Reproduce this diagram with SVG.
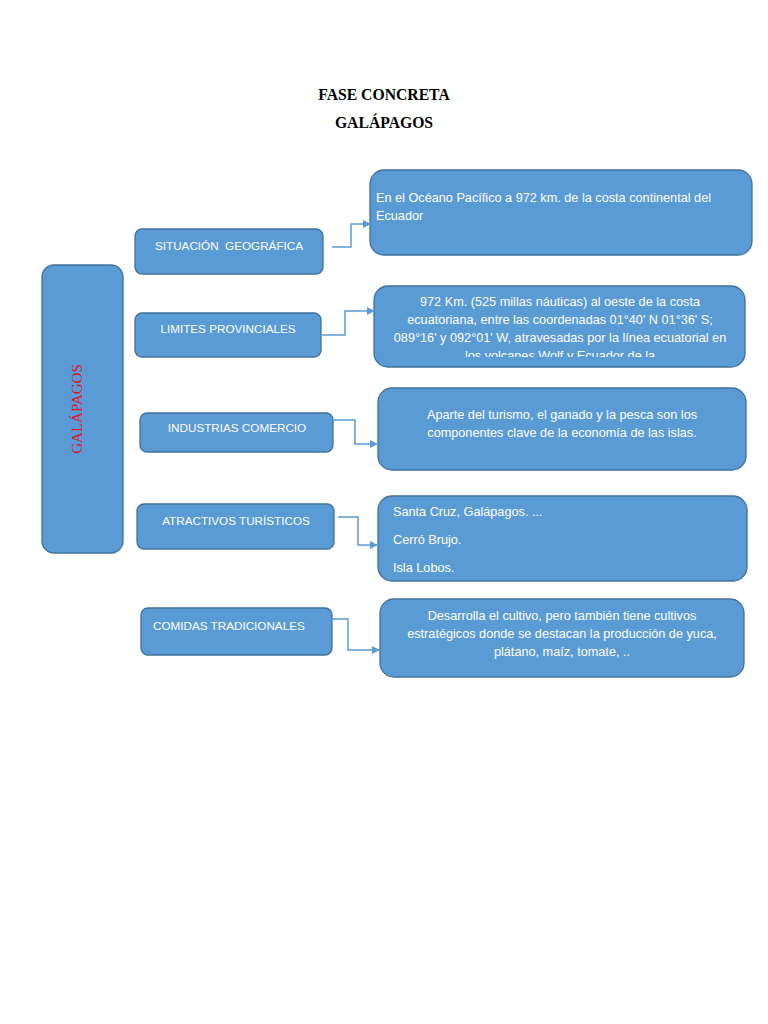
<svg xmlns="http://www.w3.org/2000/svg" width="768" height="1024" viewBox="0 0 768 1024">
<defs>
<style>
.box{fill:#5B9BD5;stroke:#41719C;stroke-width:1.3}
.t{font-family:"Liberation Sans",Arial,sans-serif;font-size:12.7px;fill:#ffffff}
.l{font-family:"Liberation Sans",Arial,sans-serif;font-size:11.7px;fill:#ffffff}
.c{text-anchor:middle}
.title{font-family:"Liberation Serif","Times New Roman",serif;font-size:15.7px;font-weight:bold;fill:#000;text-anchor:middle}
.conn{fill:none;stroke:#5B9BD5;stroke-width:1.5}
</style>
<marker id="arr" viewBox="0 0 10 10" refX="9" refY="5" markerWidth="8" markerHeight="8" markerUnits="userSpaceOnUse" orient="auto">
<path d="M0,0 L10,5 L0,10 z" fill="#5B9BD5"/>
</marker>
<clipPath id="clip2"><rect x="374" y="286" width="372" height="71"/></clipPath>
</defs>
<rect width="768" height="1024" fill="#ffffff"/>
<text class="title" x="384" y="100">FASE CONCRETA</text>
<text class="title" x="384" y="128">GALÁPAGOS</text>

<g id="galapagos">
<rect class="box" x="42" y="265" width="81" height="288" rx="12"/>
<text x="82" y="409" transform="rotate(-90 82 409)" text-anchor="middle" style="font-family:'Liberation Serif','Times New Roman',serif;font-size:15px;fill:#E0141E">GALÁPAGOS</text>
</g>

<g id="situacion">
<rect class="box" x="135" y="229" width="188" height="45" rx="7"/>
<text class="l c" x="229" y="250" xml:space="preserve">SITUACIÓN  GEOGRÁFICA</text>
</g>
<g id="limites">
<rect class="box" x="135" y="313" width="186" height="44" rx="7"/>
<text class="l c" x="228" y="333">LIMITES PROVINCIALES</text>
</g>
<g id="industrias">
<rect class="box" x="140" y="413" width="193" height="39" rx="7"/>
<text class="l c" x="237" y="432">INDUSTRIAS COMERCIO</text>
</g>
<g id="atractivos">
<rect class="box" x="137" y="504" width="197" height="45" rx="7"/>
<text class="l c" x="236" y="525">ATRACTIVOS TURÍSTICOS</text>
</g>
<g id="comidas">
<rect class="box" x="141" y="608" width="191" height="47" rx="7"/>
<text class="l" x="153" y="630">COMIDAS TRADICIONALES</text>
</g>

<g id="d1">
<rect class="box" x="370" y="170" width="382" height="85" rx="14"/>
<text class="t" x="376" y="202">En el Océano Pacífico a 972 km. de la costa continental del</text>
<text class="t" x="376" y="220">Ecuador</text>
</g>
<g id="d2">
<rect class="box" x="374" y="286" width="371" height="81" rx="14"/>
<g clip-path="url(#clip2)">
<text class="t c" x="560" y="306">972 Km. (525 millas náuticas) al oeste de la costa</text>
<text class="t c" x="560" y="324">ecuatoriana, entre las coordenadas 01°40' N 01°36' S;</text>
<text class="t c" x="560" y="342">089°16' y 092°01' W, atravesadas por la línea ecuatorial en</text>
<text class="t c" x="560" y="360">los volcanes Wolf y Ecuador de la</text>
</g>
</g>
<g id="d3">
<rect class="box" x="378" y="388" width="368" height="82" rx="14"/>
<text class="t c" x="562" y="419">Aparte del turismo, el ganado y la pesca son los</text>
<text class="t c" x="562" y="437">componentes clave de la economía de las islas.</text>
</g>
<g id="d4">
<rect class="box" x="378" y="496" width="369" height="85" rx="14"/>
<text class="t" x="393" y="516">Santa Cruz, Galápagos. ...</text>
<text class="t" x="393" y="544">Cerró Brujo.</text>
<text class="t" x="393" y="572">Isla Lobos.</text>
</g>
<g id="d5">
<rect class="box" x="380" y="599" width="364" height="78" rx="14"/>
<text class="t c" x="562" y="620">Desarrolla el cultivo, pero también tiene cultivos</text>
<text class="t c" x="562" y="638">estratégicos donde se destacan la producción de yuca,</text>
<text class="t c" x="562" y="656">plátano, maíz, tomate, ..</text>
</g>

<g id="connectors">
<polyline class="conn" points="332,247 351,247 351,224 370,224" marker-end="url(#arr)"/>
<polyline class="conn" points="322,335 345,335 345,311 374,311" marker-end="url(#arr)"/>
<polyline class="conn" points="334,420 355,420 355,444 377,444" marker-end="url(#arr)"/>
<polyline class="conn" points="338,517 358,517 358,545 377,545" marker-end="url(#arr)"/>
<polyline class="conn" points="332,619 348,619 348,650 379,650" marker-end="url(#arr)"/>
</g>
</svg>
